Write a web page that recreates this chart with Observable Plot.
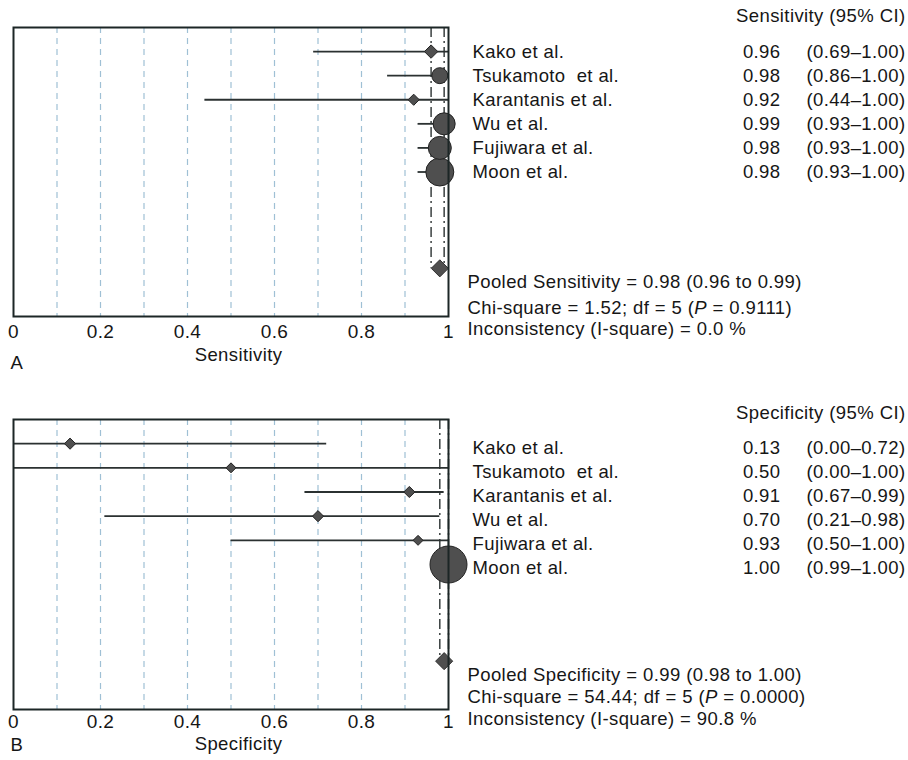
<!DOCTYPE html>
<html>
<head>
<meta charset="utf-8">
<script src="https://cdn.jsdelivr.net/npm/d3@7"></script>
<script src="https://cdn.jsdelivr.net/npm/@observablehq/plot@0.6"></script>
<style>
  html, body { margin: 0; padding: 0; background: #ffffff; }
  #chart svg { display: block; }
  #chart text { white-space: pre; }
</style>
</head>
<body>
<div id="chart"></div>
<script>
// ---- data ----
const studies = ["Kako et al.", "Tsukamoto  et al.", "Karantanis et al.", "Wu et al.", "Fujiwara et al.", "Moon et al."];

const sensEst = [0.96, 0.98, 0.92, 0.99, 0.98, 0.98];
const sensLo  = [0.69, 0.86, 0.44, 0.93, 0.93, 0.93];
const sensHi  = [1.00, 1.00, 1.00, 1.00, 1.00, 1.00];
const sensWeight = [6.3, 11.1, 4.4, 21.1, 23.0, 34.1];
const sensPooled = [0.98, 0.96, 0.99]; // estimate, lower, upper
const sensChi = 1.52, sensDf = 5, sensP = "0.9111", sensI2 = "0.0";

const specEst = [0.13, 0.50, 0.91, 0.70, 0.93, 1.00];
const specLo  = [0.00, 0.00, 0.67, 0.21, 0.50, 0.99];
const specHi  = [0.72, 1.00, 0.99, 0.98, 1.00, 1.00];
const specWeight = [5.5, 4.4, 5.5, 5.5, 4.4, 74.8];
const specPooled = [0.99, 0.98, 1.00];
const specChi = 54.44, specDf = 5, specP = "0.0000", specI2 = "90.8";

const xTicks = [0, 0.2, 0.4, 0.6, 0.8, 1];
const gridTicks = [0.1, 0.2, 0.3, 0.4, 0.5, 0.6, 0.7, 0.8, 0.9];

const fmt = d3.format(".2f");
const FONT = "'Liberation Sans', Arial, Helvetica, sans-serif";
const INK = "#161616";

function panel(cfg) {
  const rows = studies.map((name, i) => ({
    name, est: cfg.est[i], lo: cfg.lo[i], hi: cfg.hi[i], w: cfg.weight[i], row: i + 1
  }));
  const maxW = d3.max(cfg.weight);
  const pooled = {est: cfg.pooled[0], lo: cfg.pooled[1], hi: cfg.pooled[2]};
  const stats = [
    `Pooled ${cfg.measure} = ${fmt(pooled.est)} (${fmt(pooled.lo)} to ${fmt(pooled.hi)})`,
    `Chi-square = ${cfg.chi.toFixed(2)}; df = ${cfg.df} (P = ${cfg.p})`,
    `Inconsistency (I-square) = ${cfg.i2} %`
  ];
  const fs = 18.5;
  const svg = Plot.plot({
    width: 908,
    height: 380,
    marginLeft: 13,
    marginRight: 460,
    marginTop: cfg.marginTop,
    marginBottom: cfg.marginBottom,
    x: {domain: [0, 1], axis: null},
    y: {domain: [0, 12], reverse: true, axis: null},
    r: {type: "sqrt", domain: [0, maxW], range: [0, cfg.maxR]},
    style: {fontFamily: FONT, fontSize: fs + "px", background: "white", overflow: "visible", color: INK, letterSpacing: "0.4px"},
    marks: [
      Plot.ruleX(gridTicks, {x: d => d, stroke: "#9fc0d5", strokeWidth: 1.2, strokeDasharray: "6,5"}),
      Plot.ruleX([pooled.lo, pooled.hi], {x: d => d, y1: 0, y2: 10, stroke: "#3a4040", strokeWidth: 1.5, strokeDasharray: "10,4,2,4"}),
      Plot.ruleY(rows, {y: "row", x1: "lo", x2: "hi", stroke: "#2b3131", strokeWidth: 1.8}),
      Plot.dot(rows, {
        x: "est", y: "row", r: "w",
        symbol: d => (cfg.maxR * Math.sqrt(d.w / maxW) <= 6.2 ? "diamond2" : "circle"),
        fill: "#4f4f4f", stroke: "#222", strokeWidth: 1
      }),
      Plot.dot([pooled], {x: "est", y: () => 10, symbol: "diamond2", r: 7.7, fill: "#4f4f4f", stroke: "#333", strokeWidth: 1}),
      Plot.frame({stroke: "#1c2626", strokeWidth: 2}),
      // x tick labels
      Plot.text(xTicks, {x: d => d, frameAnchor: "bottom", text: d => String(d), dy: cfg.tickDy, lineAnchor: "middle", fontSize: 19, fill: INK}),
      // axis label and panel letter
      Plot.text([cfg.measure], {frameAnchor: "bottom", text: d => d, dx: 7.5, dy: cfg.labelDy, lineAnchor: "middle", textAnchor: "middle", fill: INK}),
      Plot.text([cfg.letter], {frameAnchor: "bottom-left", text: d => d, dx: -3, dy: cfg.letterDy, lineAnchor: "middle", textAnchor: "start", fill: INK}),
      // right-hand table
      Plot.text([`${cfg.measure} (95% CI)`], {frameAnchor: "top-right", text: d => d, dx: 457, dy: cfg.headerDy, lineAnchor: "middle", textAnchor: "end", fill: INK}),
      Plot.text(rows, {frameAnchor: "right", y: "row", text: "name", dx: 24, dy: cfg.rowDy, lineAnchor: "middle", textAnchor: "start", fill: INK}),
      Plot.text(rows, {frameAnchor: "right", y: "row", text: d => fmt(d.est), dx: 332, dy: cfg.rowDy, lineAnchor: "middle", textAnchor: "end", fill: INK}),
      Plot.text(rows, {frameAnchor: "right", y: "row", text: d => `(${fmt(d.lo)}–${fmt(d.hi)})`, dx: 457, dy: cfg.rowDy, lineAnchor: "middle", textAnchor: "end", fill: INK}),
      Plot.text(stats, {frameAnchor: "right", y: (d, i) => cfg.statY[i], text: d => d, dx: 19, lineAnchor: "middle", textAnchor: "start", fill: INK})
    ]
  });
  // italicise the P in the heterogeneity line
  d3.select(svg).selectAll("text").each(function () {
    if (this.querySelector("tspan")) return;
    const t = this.textContent;
    const k = t.indexOf("(P = ");
    if (k < 0) return;
    const s = d3.select(this);
    s.text(null);
    s.append("tspan").text(t.slice(0, k + 1));
    s.append("tspan").attr("font-style", "italic").text("P");
    s.append("tspan").text(t.slice(k + 2));
  });
  return svg;
}

const chart = document.getElementById("chart");
chart.append(panel({
  measure: "Sensitivity", letter: "A",
  est: sensEst, lo: sensLo, hi: sensHi, weight: sensWeight, pooled: sensPooled,
  chi: sensChi, df: sensDf, p: sensP, i2: sensI2,
  marginTop: 27, marginBottom: 64, maxR: 14,
  tickDy: 15, labelDy: 39, letterDy: 46.5, headerDy: -11, rowDy: 0.5,
  statY: [10.55, 11.63, 12.53]
}));
chart.append(panel({
  measure: "Specificity", letter: "B",
  est: specEst, lo: specLo, hi: specHi, weight: specWeight, pooled: specPooled,
  chi: specChi, df: specDf, p: specP, i2: specI2,
  marginTop: 39, marginBottom: 51, maxR: 18.5,
  tickDy: 12, labelDy: 34.5, letterDy: 36, headerDy: -6, rowDy: 4,
  statY: [10.59, 11.49, 12.39]
}));
</script>
</body>
</html>
